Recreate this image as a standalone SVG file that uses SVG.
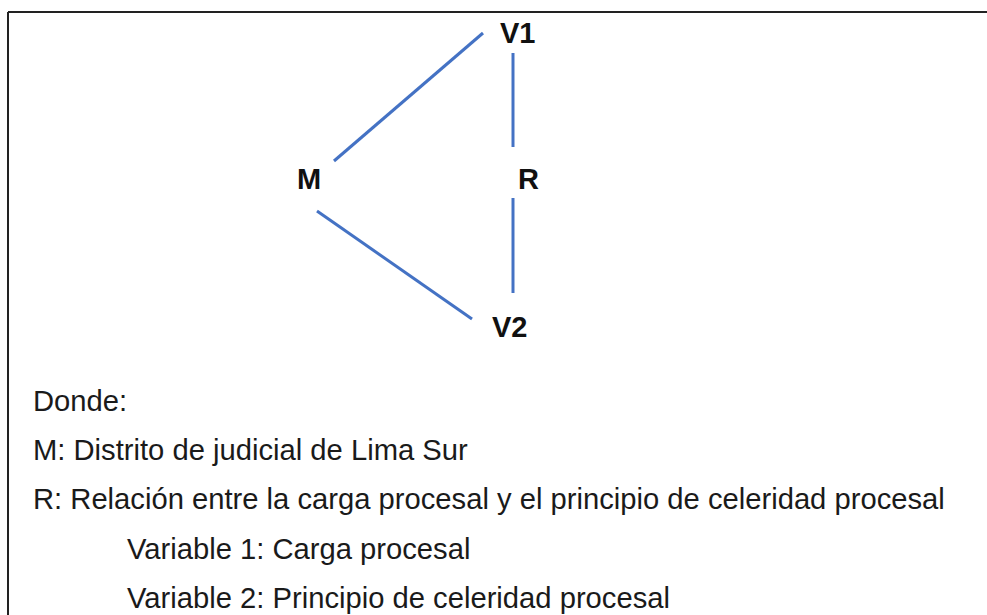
<svg xmlns="http://www.w3.org/2000/svg" width="987" height="615" viewBox="0 0 987 615">
<style>
.lbl{font-family:"Liberation Sans",Arial,sans-serif;font-weight:bold;font-size:29px;fill:#111}
.txt{font-family:"Liberation Sans",Arial,sans-serif;font-size:29.2px;fill:#1a1a1a}
.con{stroke:#4472C4;stroke-width:3;fill:none}
</style>
<rect width="987" height="615" fill="#fff"/>
<g id="frame">
<line x1="8" y1="12" x2="987" y2="12" stroke="#222" stroke-width="2"/>
<line x1="8" y1="12" x2="8" y2="615" stroke="#222" stroke-width="2"/>
</g>
<g id="connectors">
<line class="con" x1="334" y1="161" x2="483" y2="33"/>
<line class="con" x1="513" y1="53" x2="513" y2="147"/>
<line class="con" x1="513" y1="198" x2="513" y2="293"/>
<line class="con" x1="317" y1="211" x2="472" y2="319"/>
</g>
<g id="V1"><text class="lbl" x="500" y="43">V1</text></g>
<g id="M"><text class="lbl" x="297" y="189">M</text></g>
<g id="R"><text class="lbl" x="518" y="189">R</text></g>
<g id="V2"><text class="lbl" x="492" y="337">V2</text></g>
<g id="legend">
<text class="txt" x="33" y="411">Donde:</text>
<text class="txt" x="33" y="460">M: Distrito de judicial de Lima Sur</text>
<text class="txt" x="33" y="509">R: Relación entre la carga procesal y el principio de celeridad procesal</text>
<text class="txt" x="127" y="559">Variable 1: Carga procesal</text>
<text class="txt" x="127" y="608">Variable 2: Principio de celeridad procesal</text>
</g>
</svg>
